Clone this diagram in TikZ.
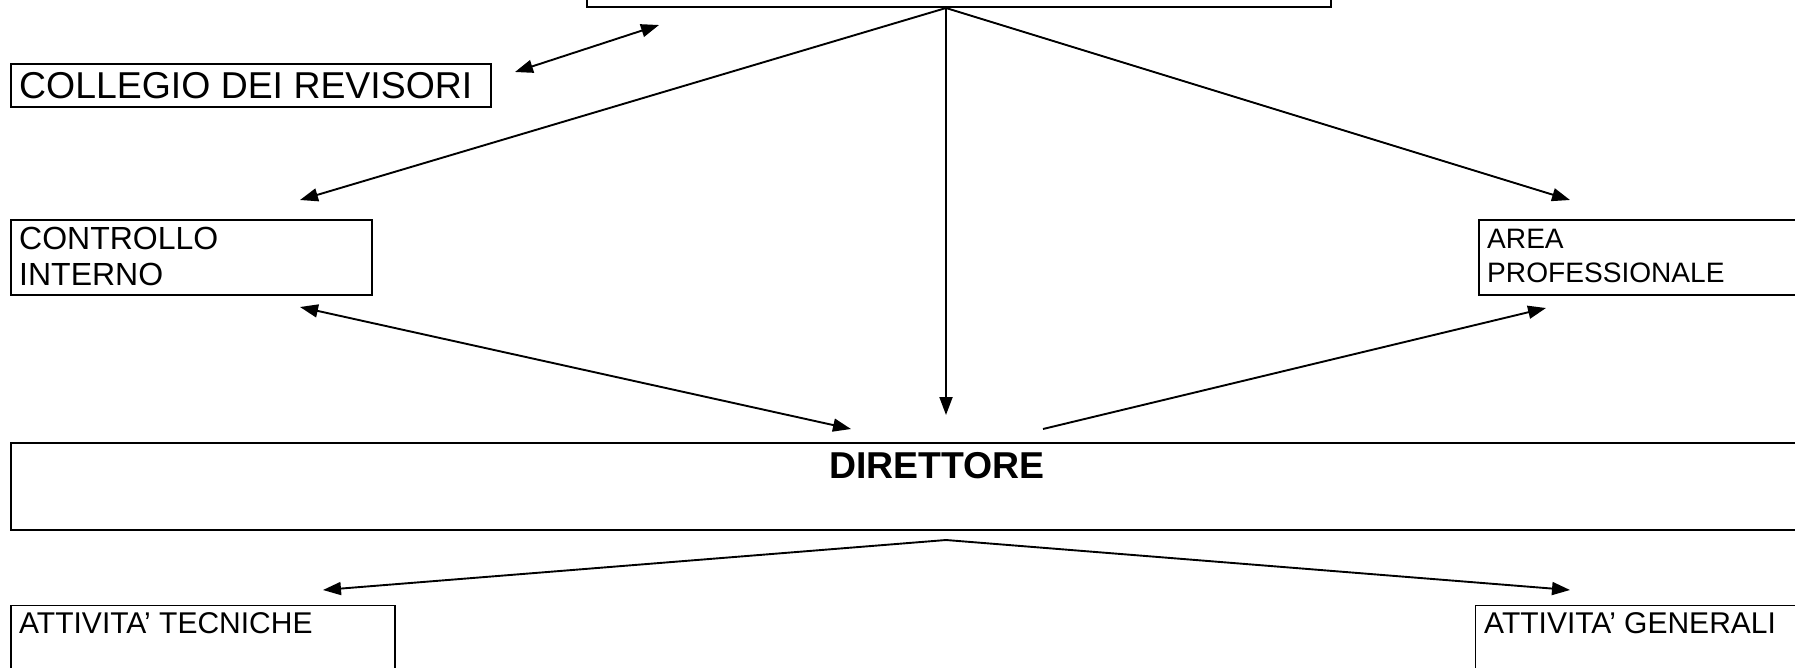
\documentclass[tikz,border=0pt]{standalone}
\usepackage{fontspec}
\setmainfont{Liberation Sans}
\usetikzlibrary{arrows.meta}
\begin{document}
\begin{tikzpicture}[x=1pt,y=-1pt,
  box/.style={draw,line width=1.8pt,inner sep=0pt,anchor=north west},
  conn/.style={line width=1.9pt},
  tip/.style={-{Triangle[length=18pt,width=13pt]}},
  tips/.style={{Triangle[length=18pt,width=13pt]}-{Triangle[length=18pt,width=13pt]}},
  lbl/.style={inner sep=0pt,anchor=base west},
  big/.style={font=\fontsize{37.4}{42}\selectfont},
  mid/.style={font=\fontsize{32}{36}\selectfont},
  sml/.style={font=\fontsize{28.1}{32}\selectfont},
  att/.style={font=\fontsize{30}{34}\selectfont}]
\useasboundingbox (0,0) rectangle (1795,667);
\clip (0,0) rectangle (1795,667);
% boxes
\node[box,minimum width=744pt,minimum height=56pt] (cda) at (586,-50) {};
\node[box,minimum width=480pt,minimum height=43pt] (coll) at (10,63) {};
\node[box,minimum width=361pt,minimum height=75pt] (ci) at (10,219) {};
\node[box,minimum width=400pt,minimum height=75pt] (ap) at (1478,219) {};
\node[box,minimum width=1852pt,minimum height=87pt] (dir) at (10,442) {};
\node[box,minimum width=384pt,minimum height=90pt] (at) at (10,604.5) {};
\node[box,minimum width=400pt,minimum height=90pt] (ag) at (1474.5,604.5) {};
% texts
\node[lbl,big] (tcoll) at (19,98.5) {COLLEGIO DEI REVISORI};
\node[lbl,mid] (tci1) at (19,249.5) {CONTROLLO};
\node[lbl,mid] (tci2) at (19,285) {INTERNO};
\node[lbl,sml] (tap1) at (1487,248) {AREA};
\node[lbl,sml] (tap2) at (1487,282) {PROFESSIONALE};
\node[inner sep=0pt,anchor=base,font=\bfseries\fontsize{37.4}{42}\selectfont] (tdir) at (937,478) {DIRETTORE};
\node[lbl,att] (tat) at (19,633) {ATTIVITA’ TECNICHE};
\node[lbl,att] (tag) at (1484,633) {ATTIVITA’ GENERALI};
% connector end points
\coordinate (apex) at (946,8);
\coordinate (ciT) at (300,200);
\coordinate (dirT) at (946,415);
\coordinate (apT) at (1570,200);
\coordinate (colA) at (515,72);
\coordinate (colB) at (659,25);
\coordinate (ciB) at (300,307);
\coordinate (dirL) at (851,429);
\coordinate (dirR) at (1043,429);
\coordinate (apB) at (1546,308);
\coordinate (dbot) at (946,540);
\coordinate (atT) at (323,590);
\coordinate (agT) at (1570,590);
% connectors
\draw[conn,tips] (colA) -- (colB);
\draw[conn,tip] (apex) -- (ciT);
\draw[conn,tip] (apex) -- (dirT);
\draw[conn,tip] (apex) -- (apT);
\draw[conn,tips] (ciB) -- (dirL);
\draw[conn,tip] (dirR) -- (apB);
\draw[conn,tip] (dbot) -- (atT);
\draw[conn,tip] (dbot) -- (agT);
\end{tikzpicture}
\end{document}
